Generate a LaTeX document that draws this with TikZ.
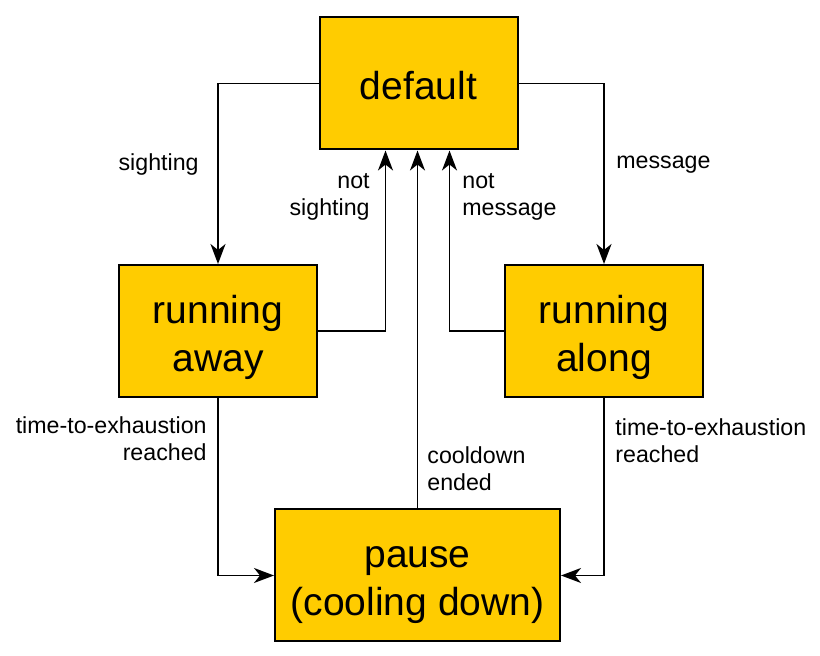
\documentclass[tikz,border=0pt]{standalone}
\usepackage{fontspec}
\setmainfont{Liberation Sans}
\usetikzlibrary{arrows.meta}
\definecolor{stategold}{HTML}{FFCC00}
\newcommand{\topstrut}{\rule{0pt}{20.5pt}}
\begin{document}
\begin{tikzpicture}[x=0.5pt, y=-0.5pt,
        state/.style={rectangle, draw=black, fill=stategold, line width=1pt, align=center,
            minimum width=99pt, minimum height=66pt, font=\fontsize{19.5}{24}\selectfont,
            execute at end node={\rule[-4.1pt]{0pt}{4.1pt}}},
        trans/.style={draw, line width=0.9pt, -{Stealth[length=10pt, width=7.5pt, inset=3pt]}},
        guard/.style={inner sep=0pt, font=\fontsize{11.6}{13.6}\selectfont},]

        \useasboundingbox (0,0) rectangle (820,656);

        % States
        \node[state] (def)   at (418.5,83.5)  {\topstrut default};
        \node[state] (away)  at (218,331)     {\topstrut running\\away};
        \node[state] (along) at (604,331)     {\topstrut running\\along};
        \node[state, minimum width=142.5pt] (pause) at (417.5,575.5) {\topstrut pause\\(cooling down)};

        % Guards
        \node[guard, anchor=east, align=right]  (gsight)   at (199,165) {sighting};
        \node[guard, anchor=east, align=right]  (gnsight)  at (370,197) {not\\sighting};
        \node[guard, anchor=west, align=left]   (gnmsg)    at (462,197) {not\\message};
        \node[guard, anchor=west, align=left]   (gmsg)     at (616,165) {message};
        \node[guard, anchor=east, align=right]  (gexhl)    at (207,439) {time-to-exhaustion\\reached};
        \node[guard, anchor=west, align=left]   (gexhr)    at (615,441) {time-to-exhaustion\\reached};
        \node[guard, anchor=west, align=left]   (gcool)    at (427,469) {cooldown\\ended};

        % Transitions
        \draw[trans] (def.west) -| (away.north);
        \draw[trans] (def.east) -| (along.north);
        \draw[trans] (away.east) -| ([xshift=33.5pt]def.south west);
        \draw[trans] (along.west) -| ([xshift=65.5pt]def.south west);
        \draw[trans] (pause.north) -- (pause.north |- def.south);
        \draw[trans] (away.south) |- (pause.west);
        \draw[trans] (along.south) |- (pause.east);
    \end{tikzpicture}
\end{document}
